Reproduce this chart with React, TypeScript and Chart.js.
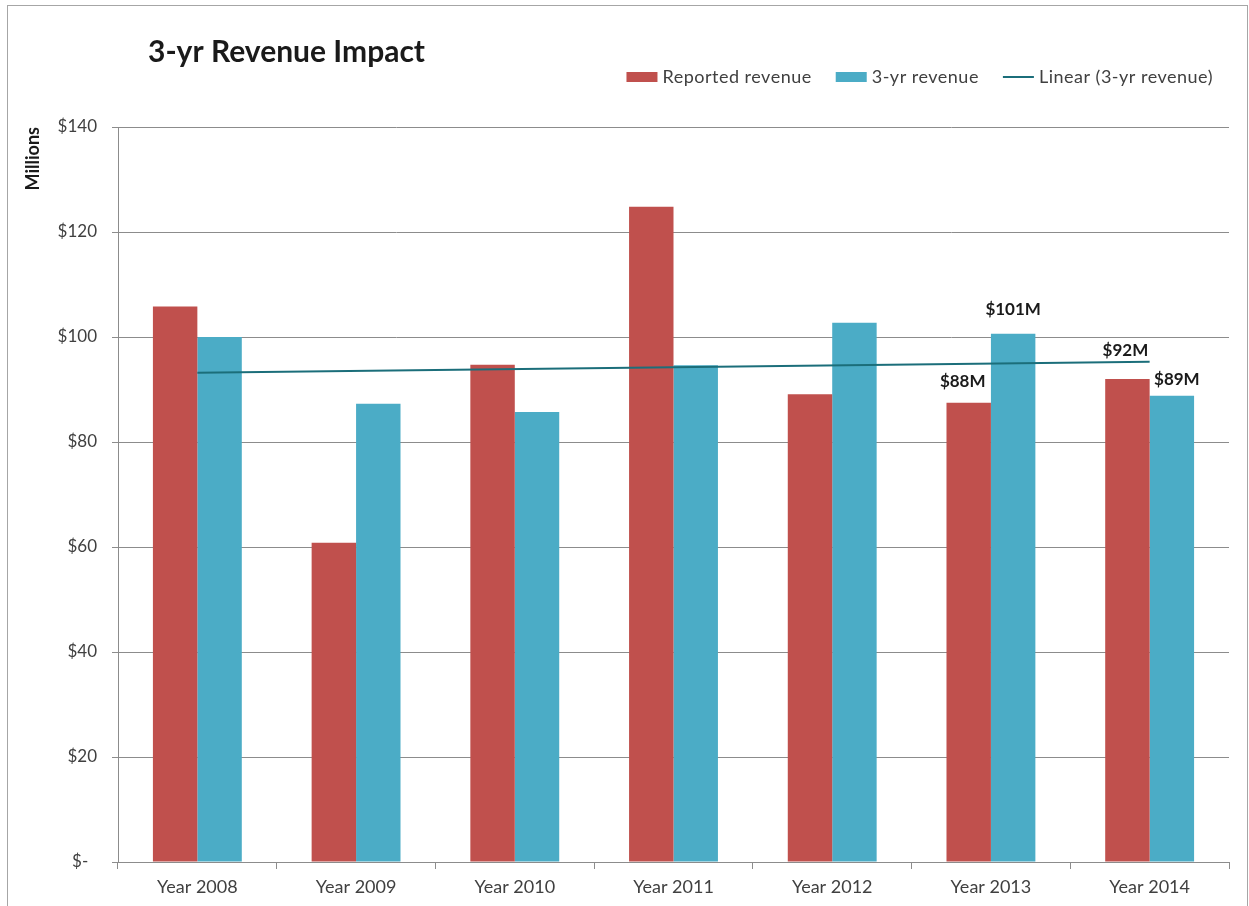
import React, { useEffect, useRef } from "react";
import { Chart, registerables } from "chart.js";

Chart.register(...registerables);

const categories = ["Year 2008", "Year 2009", "Year 2010", "Year 2011", "Year 2012", "Year 2013", "Year 2014"];
const reportedRevenue = [105.8, 60.8, 94.7, 124.8, 89.1, 87.5, 92.0];
const threeYrRevenue = [100.0, 87.3, 85.7, 94.6, 102.7, 100.6, 88.8];
const trendValues = [93.2, null, null, null, null, null, 95.3];
const reportedLabels = [null, null, null, null, null, "$88M", "$92M"];
const threeYrLabels = [null, null, null, null, null, "$101M", "$89M"];
const yTicks = [0, 20, 40, 60, 80, 100, 120, 140];

const titleText = "3-yr Revenue Impact";
const legendItems = [
  { text: "Reported revenue", color: "#C0504D", kind: "box" },
  { text: "3-yr revenue", color: "#4BACC6", kind: "box" },
  { text: "Linear (3-yr revenue)", color: "#1B6E7A", kind: "line" },
];

const FONT = "Lato, 'Open Sans', sans-serif";

// label offsets relative to bar top-center (style only)
const labelOffsets: Record<string, [number, number]> = {
  "0-5": [-6, -21],
  "0-6": [-2, -28],
  "1-5": [0, -24],
  "1-6": [5, -16],
};

const overlayPlugin = {
  id: "overlay",
  beforeDraw(chart: any) {
    const ctx = chart.ctx;
    ctx.save();
    ctx.fillStyle = "#ffffff";
    ctx.fillRect(0, 0, chart.width, chart.height);
    ctx.strokeStyle = "#a6a6a6";
    ctx.lineWidth = 1;
    ctx.strokeRect(7.5, 5.5, 1240, 920);
    ctx.restore();
  },
  afterDraw(chart: any) {
    const ctx = chart.ctx;
    ctx.save();
    // title
    ctx.fillStyle = "#1a1a1a";
    ctx.font = `bold 30px ${FONT}`;
    ctx.textBaseline = "middle";
    ctx.textAlign = "left";
    ctx.fillText(titleText, 148, 52);

    // legend
    ctx.font = `18px ${FONT}`;
    try {
      (ctx as any).letterSpacing = "0.5px";
    } catch (e) {}
    const boxW = 31;
    const gapBox = 5;
    const gapItem = 24;
    const widths = legendItems.map((it) => ctx.measureText(it.text).width);
    let total = 0;
    widths.forEach((w, i) => {
      total += boxW + gapBox + w + (i < widths.length - 1 ? gapItem : 0);
    });
    let x = 1213 - total;
    const y = 77;
    legendItems.forEach((it, i) => {
      if (it.kind === "box") {
        ctx.fillStyle = it.color;
        ctx.fillRect(x, y - 5, boxW, 10);
      } else {
        ctx.strokeStyle = it.color;
        ctx.lineWidth = 2;
        ctx.beginPath();
        ctx.moveTo(x, y);
        ctx.lineTo(x + boxW, y);
        ctx.stroke();
      }
      x += boxW + gapBox;
      ctx.fillStyle = "#404040";
      ctx.fillText(it.text, x, y);
      x += widths[i] + gapItem;
    });
    ctx.restore();
  },
  afterDatasetsDraw(chart: any) {
    const ctx = chart.ctx;
    ctx.save();
    ctx.font = `bold 17px ${FONT}`;
    ctx.fillStyle = "#1a1a1a";
    ctx.textAlign = "center";
    ctx.textBaseline = "middle";
    [reportedLabels, threeYrLabels].forEach((labels, di) => {
      const meta = chart.getDatasetMeta(di + 1);
      labels.forEach((lbl, idx) => {
        if (!lbl) return;
        const el = meta.data[idx];
        const off = labelOffsets[`${di}-${idx}`] || [0, -18];
        ctx.fillText(lbl, el.x + off[0], el.y + off[1]);
      });
    });
    ctx.restore();
  },
};

export default function App() {
  const canvasRef = useRef<HTMLCanvasElement | null>(null);

  useEffect(() => {
    document.body.style.margin = "0";
    document.documentElement.style.overflow = "hidden";
    const canvas = canvasRef.current;
    if (!canvas) return;
    const chart = new Chart(canvas, {
      type: "bar",
      data: {
        labels: categories,
        datasets: [
          {
            type: "line",
            label: "Linear (3-yr revenue)",
            data: trendValues as any,
            borderColor: "#1B6E7A",
            borderWidth: 2,
            pointRadius: 0,
            spanGaps: true,
            fill: false,
            order: 0,
          } as any,
          {
            label: "Reported revenue",
            data: reportedRevenue,
            backgroundColor: "#C0504D",
            categoryPercentage: 0.56,
            barPercentage: 1.0,
            order: 1,
          },
          {
            label: "3-yr revenue",
            data: threeYrRevenue,
            backgroundColor: "#4BACC6",
            categoryPercentage: 0.56,
            barPercentage: 1.0,
            order: 1,
          },
        ],
      },
      options: {
        animation: false,
        responsive: true,
        maintainAspectRatio: false,
        layout: { padding: { top: 127, right: 20, bottom: 0, left: 0 } },
        plugins: {
          legend: { display: false },
          title: { display: false },
          tooltip: { enabled: false },
        },
        scales: {
          x: {
            grid: {
              offset: true,
              drawOnChartArea: false,
              drawTicks: true,
              tickLength: 7,
              color: "#8c8c8c",
            },
            border: { color: "#8c8c8c" },
            ticks: {
              color: "#404040",
              font: { family: FONT, size: 18 },
              padding: 7,
              maxRotation: 0,
            },
            afterFit(scale: any) {
              scale.height = 44;
            },
          },
          y: {
            min: 0,
            max: 140,
            afterBuildTicks(scale: any) {
              scale.ticks = yTicks.map((v) => ({ value: v }));
            },
            grid: {
              color: "#8c8c8c",
              tickLength: 6,
            },
            border: { color: "#8c8c8c" },
            ticks: {
              color: "#404040",
              font: { family: FONT, size: 17 },
              padding: 15,
              callback: (v: any) => (Number(v) === 0 ? "$-  " : "$" + v),
            },
            title: {
              display: true,
              text: "Millions",
              align: "end",
              color: "#1a1a1a",
              font: { family: FONT, size: 18, weight: "bold" },
              padding: { top: 22, bottom: 0 },
            },
            afterFit(scale: any) {
              scale.width = 118;
            },
          },
        },
      },
      plugins: [overlayPlugin],
    });
    return () => chart.destroy();
  }, []);

  return (
    <div style={{ width: 1249, height: 906, position: "relative" }}>
      <canvas ref={canvasRef} />
    </div>
  );
}
